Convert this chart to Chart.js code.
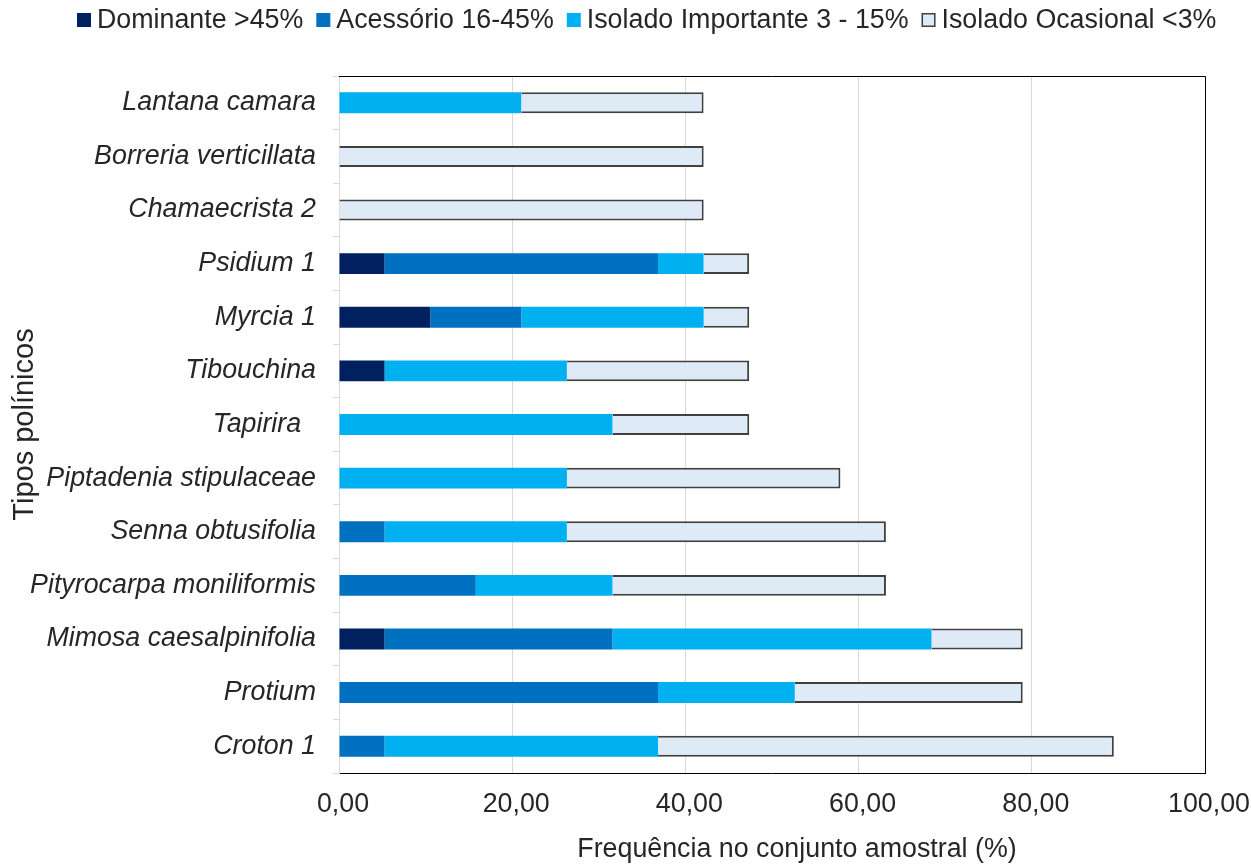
<!DOCTYPE html>
<html lang="pt">
<head>
<meta charset="utf-8">
<title>Tipos polínicos</title>
<script src="https://cdn.jsdelivr.net/npm/chart.js@4.4.1/dist/chart.umd.min.js"></script>
<style>
  html, body { margin: 0; padding: 0; background: #ffffff; }
  canvas { display: block; }
</style>
</head>
<body>
<canvas id="grafico" width="1251" height="866"></canvas>
<script>
// Tipos polínicos (de cima para baixo)
const tipos = [
  'Lantana camara',
  'Borreria verticillata',
  'Chamaecrista 2',
  'Psidium 1',
  'Myrcia 1',
  'Tibouchina',
  'Tapirira  ',
  'Piptadenia stipulaceae',
  'Senna obtusifolia',
  'Pityrocarpa moniliformis',
  'Mimosa caesalpinifolia',
  'Protium',
  'Croton 1'
];

// Frequência (%) de cada classe no conjunto amostral
const dominante  = [0, 0, 0, 5.26, 10.53, 5.26, 0, 0, 0, 0, 5.26, 0, 0];
const acessorio  = [0, 0, 0, 31.58, 10.53, 0, 0, 0, 5.26, 15.79, 26.32, 36.84, 5.26];
const importante = [21.05, 0, 0, 5.26, 21.05, 21.05, 31.58, 26.32, 21.05, 15.79, 36.84, 15.79, 31.58];
const ocasional  = [21.05, 42.11, 42.11, 5.26, 5.26, 21.05, 15.79, 31.58, 36.84, 31.58, 10.53, 26.32, 52.63];

const classes = ['Dominante >45%', 'Acessório 16-45%', 'Isolado Importante 3 - 15%', 'Isolado Ocasional <3%'];

// Eixo X
const xMin = 0, xMax = 100, xPasso = 20;
const tituloX = 'Frequência no conjunto amostral (%)';

const FONTE = "'Liberation Sans', Arial, sans-serif";
const TAM = 26.8;
const COR_TEXTO = '#262626';
const COR_GRADE = '#D9D9D9';

// Legenda, título do eixo X e moldura superior/direita da área de plotagem
const moldura = {
  id: 'moldura',
  afterDraw(chart) {
    const { ctx, chartArea } = chart;

    // moldura
    const t = Math.round(chartArea.top) + 0.5;
    const r = Math.round(chartArea.right) + 0.5;
    const l = Math.round(chartArea.left);
    const b = Math.round(chartArea.bottom);
    ctx.save();
    ctx.strokeStyle = '#000000';
    ctx.lineWidth = 1;
    ctx.beginPath();
    ctx.moveTo(l, t);
    ctx.lineTo(r, t);
    ctx.lineTo(r, b + 0.5);
    ctx.stroke();

    // título do eixo X
    ctx.font = TAM + 'px ' + FONTE;
    ctx.fillStyle = COR_TEXTO;
    ctx.textAlign = 'center';
    ctx.textBaseline = 'middle';
    ctx.fillText(tituloX, (chartArea.left + chartArea.right) / 2 + 25, chart.height - 16);

    // legenda
    const caixa = 14, vaoTexto = 6, vaoItem = 13, yMeio = 20;
    ctx.textAlign = 'left';
    let x = 77;
    chart.data.datasets.forEach((ds) => {
      ctx.fillStyle = ds.backgroundColor;
      ctx.fillRect(x, yMeio - caixa / 2, caixa, caixa);
      if (ds.borderWidth) {
        ctx.strokeStyle = ds.borderColor;
        ctx.lineWidth = 1.5;
        ctx.strokeRect(x + 0.75, yMeio - caixa / 2 + 0.75, caixa - 1.5, caixa - 1.5);
      }
      ctx.fillStyle = COR_TEXTO;
      ctx.fillText(ds.label, x + caixa + vaoTexto, yMeio + 1);
      x += caixa + vaoTexto + ctx.measureText(ds.label).width + vaoItem;
    });
    ctx.restore();
  }
};

new Chart(document.getElementById('grafico'), {
  type: 'bar',
  data: {
    labels: tipos,
    datasets: [
      { label: classes[0], data: dominante,  backgroundColor: '#002060', borderWidth: 0 },
      { label: classes[1], data: acessorio,  backgroundColor: '#0070C0', borderWidth: 0 },
      { label: classes[2], data: importante, backgroundColor: '#00B0F0', borderWidth: 0 },
      { label: classes[3], data: ocasional,  backgroundColor: '#DEEAF6', borderColor: '#404040', borderWidth: 2 }
    ]
  },
  options: {
    indexAxis: 'y',
    responsive: false,
    animation: false,
    devicePixelRatio: 1,
    layout: { padding: { top: 76, right: 46, bottom: 0, left: 0 } },
    datasets: {
      bar: { categoryPercentage: 1, barPercentage: 0.39 }
    },
    plugins: {
      legend: { display: false },
      tooltip: { enabled: false }
    },
    scales: {
      x: {
        stacked: true,
        min: xMin,
        max: xMax,
        ticks: {
          stepSize: xPasso,
          padding: 16,
          labelOffset: 4,
          color: COR_TEXTO,
          font: { family: FONTE, size: TAM },
          callback: (v) => Number(v).toFixed(2).replace('.', ',')
        },
        grid: { color: COR_GRADE, lineWidth: 1, drawTicks: false },
        border: { color: '#000000', width: 1 },
        afterFit(scale) {
          scale.height = 93;
          scale.paddingLeft = 0;
          scale.paddingRight = 0;
        }
      },
      y: {
        stacked: true,
        ticks: {
          padding: 17,
          color: COR_TEXTO,
          font: { family: FONTE, size: TAM, style: 'italic' }
        },
        grid: { offset: true, drawOnChartArea: false, drawTicks: true, tickLength: 6, color: COR_GRADE },
        border: { color: COR_GRADE, width: 1 },
        title: {
          display: true,
          text: 'Tipos polínicos',
          color: COR_TEXTO,
          font: { family: FONTE, size: 29 },
          padding: { top: 8, bottom: 0 }
        },
        afterFit(scale) { scale.width = 339; }
      }
    }
  },
  plugins: [moldura]
});
</script>
</body>
</html>
